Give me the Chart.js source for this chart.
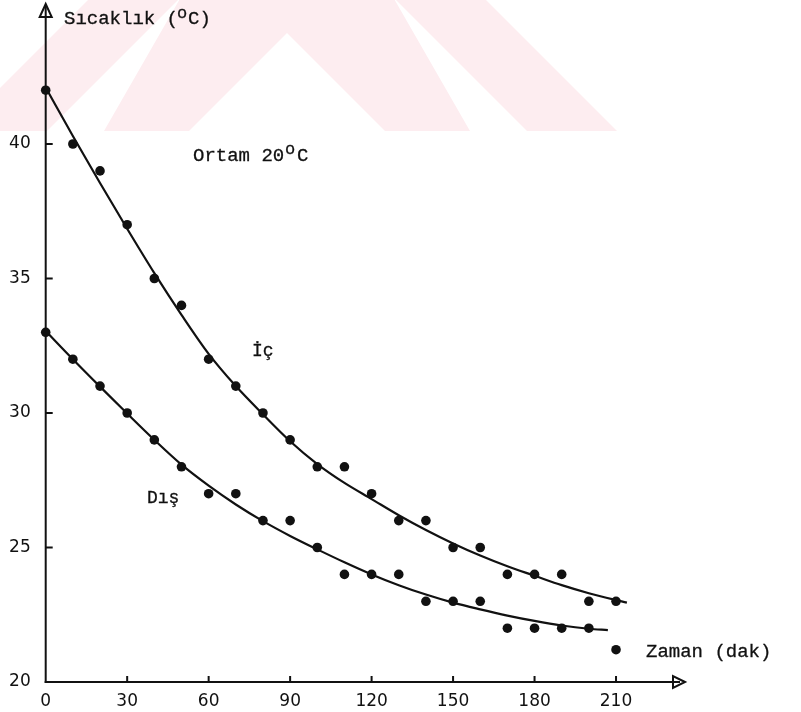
<!DOCTYPE html>
<html>
<head>
<meta charset="utf-8">
<script src="https://cdn.jsdelivr.net/npm/chart.js@4.4.0/dist/chart.umd.min.js"></script>
<style>
body { margin: 0; background: #fff; }
canvas { display: block; }
</style>
</head>
<body>
<canvas id="sicaklikChart" width="801" height="712"></canvas>
<script>
// olculen noktalar (dakika, derece C)
var zaman = [0, 10, 20, 30, 40, 50, 60, 70, 80, 90, 100, 110, 120, 130, 140, 150, 160, 170, 180, 190, 200, 210];
var icSicaklik = [42, 40, 39, 37, 35, 34, 32, 31, 30, 29, 28, 28, 27, 26, 26, 25, 25, 24, 24, 24, 23, 23];
var disSicaklik = [33, 32, 31, 30, 29, 28, 27, 27, 26, 26, 25, 24, 24, 24, 23, 23, 23, 22, 22, 22, 22, 21.2];

// elle cizilmis egriler
var icEgriZaman = [0, 10, 20, 30, 40, 50, 60, 70, 80, 90, 100, 110, 120, 130, 140, 150, 160, 170, 180, 190, 200, 214];
var icEgri = [42.1, 40.3, 38.55, 36.85, 35.2, 33.65, 32.2, 31.0, 29.95, 28.95, 28.1, 27.4, 26.8, 26.2, 25.65, 25.15, 24.7, 24.3, 23.95, 23.6, 23.3, 22.95];
var disEgriZaman = [0, 10, 20, 30, 40, 50, 60, 70, 80, 90, 100, 110, 120, 130, 140, 150, 160, 170, 180, 190, 200, 207];
var disEgri = [33.05, 32.0, 30.98, 29.98, 29.0, 28.08, 27.3, 26.6, 25.98, 25.43, 24.93, 24.45, 24.0, 23.6, 23.25, 22.95, 22.7, 22.47, 22.27, 22.1, 21.98, 21.93];

var xTikler = [0, 30, 60, 90, 120, 150, 180, 210];
var yTikler = [20, 25, 30, 35, 40];

var yaziRengi = '#111';
var daktilo = '"Liberation Mono", "DejaVu Sans Mono", monospace';

function noktalar(xler, yler)
{
    return xler.map(function (x, i) {
        return {x: x, y: yler[i]};
    });
}

function cokgen(ctx, pts)
{
    ctx.beginPath();
    ctx.moveTo(pts[0][0], pts[0][1]);
    pts.slice(1).forEach(function (p) { ctx.lineTo(p[0], p[1]); });
    ctx.closePath();
    ctx.fill();
}

// ust kenardaki soluk kirmizi sekiller
function filigran(ctx)
{
    ctx.save();
    ctx.beginPath();
    ctx.rect(0, 0, 801, 131);
    ctx.clip();
    ctx.fillStyle = '#fdedf0';
    // dis cati bandi (45 derece)
    cokgen(ctx, [[-400, 488], [287, -199], [974, 488], [974, 578], [287, -109], [-400, 578]]);
    // ic kama bolgesi
    cokgen(ctx, [[185, -10], [104, 131], [189, 131], [287, 33], [385, 131], [470, 131], [389, -10]]);
    ctx.restore();
}

// parcalar: [metin, x, taban, boyut]
function yaz(ctx, parcalar)
{
    ctx.fillStyle = yaziRengi;
    ctx.strokeStyle = yaziRengi;
    ctx.lineWidth = 0.3;
    ctx.textBaseline = 'alphabetic';
    ctx.textAlign = 'left';
    parcalar.forEach(function (p) {
        ctx.font = p[3] + 'px ' + daktilo;
        ctx.fillText(p[0], p[1], p[2]);
        ctx.strokeText(p[0], p[1], p[2]);
    });
}

var eksenCizimi = {
    id: 'eksenCizimi',
    beforeDraw: function (chart) {
        filigran(chart.ctx);
    },
    beforeDatasetsDraw: function (chart) {
        var ctx = chart.ctx,
            xs = chart.scales.x,
            ys = chart.scales.y,
            x0 = xs.getPixelForValue(0),
            y0 = ys.getPixelForValue(20);

        ctx.save();
        ctx.strokeStyle = yaziRengi;
        ctx.lineWidth = 2;

        // dikey eksen ve ok
        ctx.beginPath();
        ctx.moveTo(x0, y0 + 1);
        ctx.lineTo(x0, 6);
        ctx.stroke();
        ctx.beginPath();
        ctx.moveTo(x0, 4);
        ctx.lineTo(x0 - 6, 17);
        ctx.lineTo(x0 + 6, 17);
        ctx.closePath();
        ctx.stroke();

        // yatay eksen ve ok
        ctx.beginPath();
        ctx.moveTo(x0 - 1, y0);
        ctx.lineTo(680, y0);
        ctx.stroke();
        ctx.beginPath();
        ctx.moveTo(685, y0);
        ctx.lineTo(673, y0 - 6);
        ctx.lineTo(673, y0 + 6);
        ctx.closePath();
        ctx.stroke();

        // kucuk isaretler
        ctx.beginPath();
        yTikler.slice(1).forEach(function (v) {
            var y = ys.getPixelForValue(v);
            ctx.moveTo(x0, y);
            ctx.lineTo(x0 + 7, y);
        });
        xTikler.slice(1).forEach(function (v) {
            var x = xs.getPixelForValue(v);
            ctx.moveTo(x, y0);
            ctx.lineTo(x, y0 - 6);
        });
        ctx.stroke();
        ctx.restore();
    },
    afterDraw: function (chart) {
        var ctx = chart.ctx;
        ctx.save();
        yaz(ctx, [
            ['Sıcaklık (', 64, 24, 19],
            ['o', 177, 18, 17],
            ['C)', 188, 24, 19],
            ['Ortam 20', 193, 161, 19],
            ['o', 285, 154, 17],
            ['C', 297, 161, 19],
            ['İç', 252, 356, 18],
            ['Dış', 147, 503, 18],
            ['Zaman (dak)', 646, 657, 19]
        ]);
        ctx.restore();
    }
};

var ctx = document.getElementById('sicaklikChart');

new Chart(ctx, {
    type: 'scatter',
    data: {
        datasets: [
            {
                label: 'İç',
                data: noktalar(zaman, icSicaklik),
                backgroundColor: yaziRengi,
                borderWidth: 0,
                pointRadius: 4.8,
                clip: false
            },
            {
                label: 'Dış',
                data: noktalar(zaman, disSicaklik),
                backgroundColor: yaziRengi,
                borderWidth: 0,
                pointRadius: 4.8,
                clip: false
            },
            {
                type: 'line',
                label: 'İç eğri',
                data: noktalar(icEgriZaman, icEgri),
                borderColor: yaziRengi,
                borderWidth: 2.2,
                pointRadius: 0,
                cubicInterpolationMode: 'monotone',
                fill: false,
                clip: false
            },
            {
                type: 'line',
                label: 'Dış eğri',
                data: noktalar(disEgriZaman, disEgri),
                borderColor: yaziRengi,
                borderWidth: 2.2,
                pointRadius: 0,
                cubicInterpolationMode: 'monotone',
                fill: false,
                clip: false
            }
        ]
    },
    options: {
        responsive: false,
        animation: false,
        layout: {
            padding: {top: 9.5, right: 103.5, bottom: 0, left: 0}
        },
        plugins: {
            legend: {display: false},
            tooltip: {enabled: false}
        },
        scales: {
            x: {
                type: 'linear',
                min: 0,
                max: 240,
                afterFit: function (scale) {
                    scale.height = 30;
                    scale.paddingLeft = 0;
                    scale.paddingRight = 0;
                },
                afterBuildTicks: function (scale) {
                    scale.ticks = xTikler.map(function (v) { return {value: v}; });
                },
                grid: {display: false, drawTicks: false},
                border: {display: false},
                ticks: {
                    padding: 9,
                    color: yaziRengi,
                    font: {family: '"DejaVu Sans"', size: 17},
                    maxRotation: 0,
                    autoSkip: false
                }
            },
            y: {
                type: 'linear',
                min: 20,
                max: 45,
                afterFit: function (scale) {
                    scale.width = 45.7;
                    scale.paddingTop = 0;
                    scale.paddingBottom = 0;
                },
                afterBuildTicks: function (scale) {
                    scale.ticks = yTikler.map(function (v) { return {value: v}; });
                },
                grid: {display: false, drawTicks: false},
                border: {display: false},
                ticks: {
                    padding: 15,
                    color: yaziRengi,
                    font: {family: '"DejaVu Sans"', size: 17},
                    autoSkip: false
                }
            }
        }
    },
    plugins: [eksenCizimi]
});
</script>
</body>
</html>
